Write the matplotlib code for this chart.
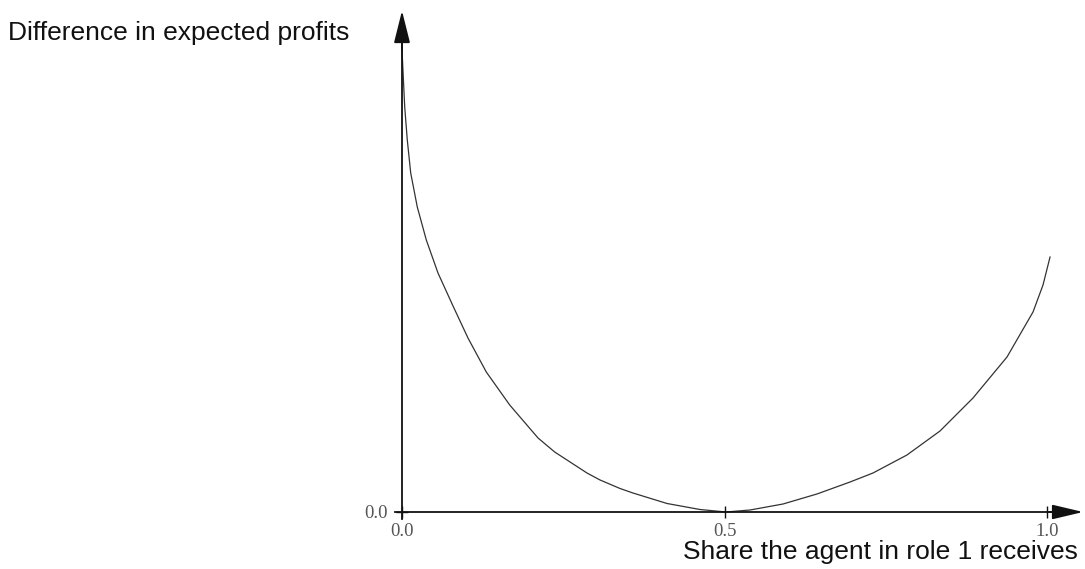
import matplotlib
matplotlib.use("Agg")
import matplotlib.pyplot as plt

# curve (share x, difference in profits in arbitrary units)
share = [0.0, 0.0042, 0.0082, 0.0135, 0.0237, 0.0377, 0.0558, 0.0791, 0.1023,
         0.1307, 0.1670, 0.2109, 0.2367, 0.2868, 0.3070, 0.3380, 0.3581, 0.4109,
         0.4620, 0.5023, 0.5395, 0.5907, 0.6434, 0.6946, 0.7302, 0.7829, 0.8341,
         0.8853, 0.9380, 0.9783, 0.9938, 1.0047]
diff = [1.0, 0.8766, 0.8052, 0.7338, 0.6602, 0.5887, 0.5173, 0.4459, 0.3766,
        0.3030, 0.2316, 0.1602, 0.1299, 0.0844, 0.0693, 0.0509, 0.0411, 0.0184,
        0.0054, 0.0, 0.0043, 0.0173, 0.0390, 0.0649, 0.0844, 0.1234, 0.1753,
        0.2468, 0.3355, 0.4329, 0.4913, 0.5519]

xticks = [0.0, 0.5, 1.0]
xticklabels = ["0.0", "0.5", "1.0"]
yticks = [0.0]
yticklabels = ["0.0"]

W, H = 1085, 569
fig = plt.figure(figsize=(W / 100, H / 100), dpi=100)
ax = fig.add_axes([402 / W, (H - 512) / H, 645 / W, 462 / H])
ax.set_xlim(0, 1)
ax.set_ylim(0, 1)

ax.plot(share, diff, color="#333333", lw=0.9, clip_on=False)

axis_col = "#111111"
for side in ["top", "right"]:
    ax.spines[side].set_visible(False)
ax.spines["left"].set_bounds(-0.015, 1.03)
ax.spines["bottom"].set_bounds(-0.011, 1.02)
ax.spines["left"].set_color(axis_col)
ax.spines["bottom"].set_color(axis_col)
ax.spines["left"].set_linewidth(1.3)
ax.spines["bottom"].set_linewidth(1.3)

# arrow heads at the ends of both axes
arrow = dict(arrowstyle="-|>,head_length=20,head_width=5", color=axis_col,
             lw=1.3, shrinkA=0, shrinkB=0, mutation_scale=1)
ax.annotate("", xy=(0, 1.085), xytext=(0, 1.0), xycoords="data",
            arrowprops=arrow, annotation_clip=False)
arrow_x = dict(arrow, arrowstyle="-|>,head_length=19,head_width=4.5")
ax.annotate("", xy=(1.056, 0), xytext=(1.0, 0), xycoords="data",
            arrowprops=arrow_x, annotation_clip=False)

ax.set_xticks(xticks)
ax.set_xticklabels(xticklabels)
ax.set_yticks(yticks)
ax.set_yticklabels(yticklabels)
ax.tick_params(axis="both", direction="inout", length=9, width=1.0,
               color=axis_col, labelsize=13.5, labelcolor="#555555")
ax.tick_params(axis="x", pad=3.5)
ax.tick_params(axis="y", pad=6.0)
for lab in ax.get_xticklabels() + ax.get_yticklabels():
    lab.set_family("Liberation Serif")

fig.text(8 / W, 1 - 40 / H, "Difference in expected profits", ha="left",
         va="baseline", fontsize=19, family="Liberation Sans", color="#111111")
fig.text(1078 / W, 1 - 559 / H, "Share the agent in role 1 receives", ha="right",
         va="baseline", fontsize=19, family="Liberation Sans", color="#111111")

fig.savefig("out.png", dpi=100)
